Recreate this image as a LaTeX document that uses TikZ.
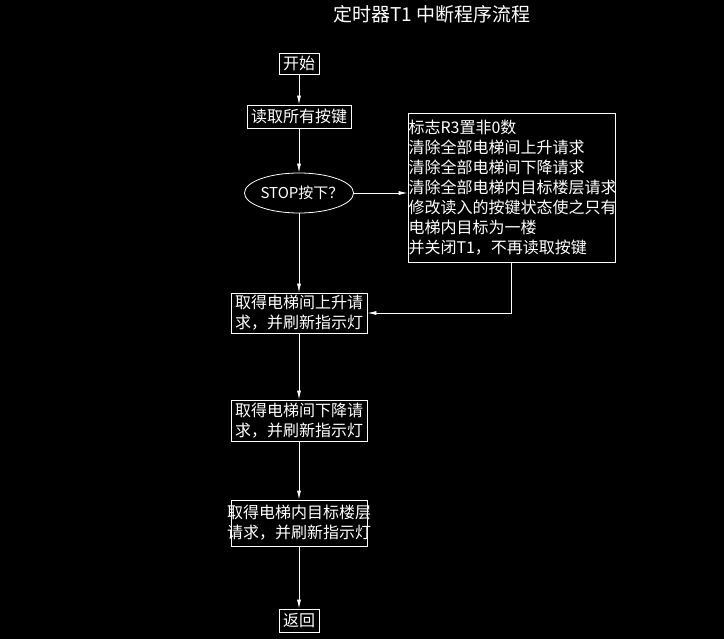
\documentclass[tikz,border=0pt]{standalone}
\usepackage{fontspec}
\usetikzlibrary{arrows.meta,shapes.geometric}
\newfontfamily\cjk{Noto Sans CJK SC}

\tikzset{
  stepbox/.style={draw=white, line width=0.8pt, text=white, inner xsep=4pt, inner ysep=1pt,
    font=\cjk\fontsize{16}{20}\selectfont, align=center},
  flow/.style={draw=white, line width=0.8pt, -{Latex[length=9pt,width=4pt]}}
}

\begin{document}
\begin{tikzpicture}[x=1pt,y=-1pt]
        \fill[black] (0,0) rectangle (724,639);
        \useasboundingbox (0,0) rectangle (724,639);

        \node[text=white, font=\cjk\fontsize{19}{22}\selectfont] at (432,14) (title) {定时器T1 中断程序流程};

        \node[stepbox, minimum width=38, minimum height=21] at (299,63.5) (start) {开始};
        \node[stepbox, minimum width=99, minimum height=23] at (299,116.5) (read) {读取所有按键};
        \node[stepbox, ellipse, inner xsep=-7pt, inner ysep=0pt, minimum width=109, minimum height=40,
            font=\cjk\fontsize{15}{18}\selectfont] at (299,193) (stop) {\hspace*{6pt}STOP按下？};
        \node[stepbox, align=left, text width=210, inner xsep=-1.5pt, minimum height=149] at (511.5,187.5) (clear)
            {\hspace*{2pt}标志R3置非0数\\\hspace*{2pt}清除全部电梯间上升请求\\\hspace*{2pt}清除全部电梯间下降请求\\\hspace*{2pt}清除全部电梯内目标楼层请求\\\hspace*{2pt}修改读入的按键状态使之只有\\\hspace*{2pt}电梯内目标为一楼\\\hspace*{2pt}并关闭T1，不再读取按键};
        \node[stepbox, minimum width=136, minimum height=40] at (299,313) (up) {取得电梯间上升请\\求，并刷新指示灯};
        \node[stepbox, minimum width=136, minimum height=41] at (299,420.5) (down) {取得电梯间下降请\\求，并刷新指示灯};
        \node[stepbox, inner xsep=-4pt, minimum height=46] at (299,523) (floor) {取得电梯内目标楼层\\请求，并刷新指示灯};
        \node[stepbox, minimum width=39, minimum height=23] at (299,620.5) (ret) {返回};

        \draw[flow] (start) -- (read);
        \draw[flow] (read) -- (stop);
        \draw[flow] (stop.east) -- (stop.east -| clear.west);
        \draw[flow] (stop) -- (up);
        \draw[flow] (clear.south) |- (up.east);
        \draw[flow] (up) -- (down);
        \draw[flow] (down) -- (floor);
        \draw[flow] (floor) -- (ret);

    \end{tikzpicture}
\end{document}
